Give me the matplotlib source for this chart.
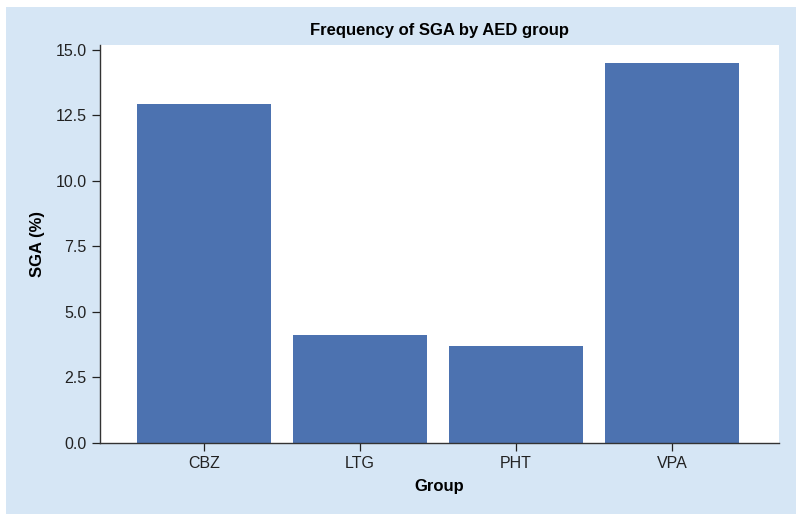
import matplotlib
matplotlib.use('Agg')
import matplotlib.pyplot as plt
from matplotlib.patches import Rectangle

groups = ['CBZ', 'LTG', 'PHT', 'VPA']
sga_pct = [12.94, 4.1, 3.7, 14.52]
yticks = [0.0, 2.5, 5.0, 7.5, 10.0, 12.5, 15.0]

plt.rcParams['font.family'] = ['Liberation Sans', 'DejaVu Sans']

bg = '#d6e6f5'
bar_color = '#4c72b0'

fig = plt.figure(figsize=(8, 5.21), dpi=100)
# light blue panel with thin white margin
fig.patches.append(Rectangle((6 / 800, 7 / 521), 790 / 800, 507 / 521,
                             transform=fig.transFigure, facecolor=bg,
                             edgecolor='none', zorder=-1))

ax = fig.add_axes([100 / 800, 1 - 442.7 / 521, 679 / 800, 397.7 / 521])
ax.bar(range(len(groups)), sga_pct, width=0.86, color=bar_color)
ax.set_xlim(-0.667, 3.685)
ax.set_ylim(0, 15.19)
ax.set_xticks(range(len(groups)))
ax.set_xticklabels(groups)
ax.set_yticks(yticks)
ax.set_yticklabels(['%.1f' % v for v in yticks])

for s in ['top', 'right']:
    ax.spines[s].set_visible(False)
for s in ['left', 'bottom']:
    ax.spines[s].set_color('#333333')
    ax.spines[s].set_linewidth(1.0)
ax.tick_params(axis='both', labelsize=11.5, colors='#222222', length=6, width=0.9)

ax.set_xlabel('Group', fontsize=12, fontweight='bold', labelpad=6)
ax.set_ylabel('SGA (%)', fontsize=12, fontweight='bold', labelpad=8)
ax.set_title('Frequency of SGA by AED group', fontsize=12, fontweight='bold', pad=7)

fig.savefig('out.png', dpi=100)
